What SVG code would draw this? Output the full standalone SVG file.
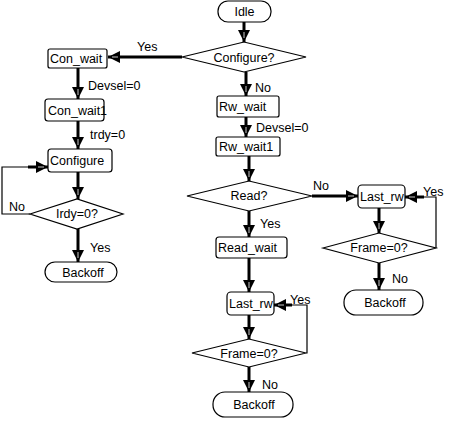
<svg xmlns="http://www.w3.org/2000/svg" width="450" height="421" viewBox="0 0 450 421">
<style>
.s{fill:#fff;stroke:#000;stroke-width:1.2}
.t{font-family:"Liberation Sans",Arial,sans-serif;font-size:12.5px;fill:#000}
.m{text-anchor:middle}
.c{fill:none;stroke:#000;stroke-width:3}
.l{fill:none;stroke:#000;stroke-width:1.2}
</style>
<defs>
<marker id="a" markerUnits="userSpaceOnUse" markerWidth="14" markerHeight="12" refX="12" refY="6" orient="auto">
<path d="M0,0 L12,6 L0,12 Z" fill="#000"/>
<path d="M2,6 L8,6" stroke="#fff" stroke-width="0.8"/>
</marker>
</defs>
<rect width="450" height="421" fill="#fff"/>
<g id="connectors">
<path class="c" d="M244,22 V42" marker-end="url(#a)"/>
<path class="c" d="M182,57 H108" marker-end="url(#a)"/>
<path class="c" d="M78,68 V99" marker-end="url(#a)"/>
<path class="c" d="M78,121 V149" marker-end="url(#a)"/>
<path class="c" d="M78,172 V199" marker-end="url(#a)"/>
<path class="l" d="M30,214 H2 V167 H30"/>
<path class="c" d="M28,167 H48" marker-end="url(#a)"/>
<path class="c" d="M78,229 V262" marker-end="url(#a)"/>
<path class="c" d="M246,72 V96" marker-end="url(#a)"/>
<path class="c" d="M246,117 V137" marker-end="url(#a)"/>
<path class="c" d="M249,156 V181" marker-end="url(#a)"/>
<path class="c" d="M312,196 H358" marker-end="url(#a)"/>
<path class="c" d="M249,211 V237" marker-end="url(#a)"/>
<path class="c" d="M249,258 V292" marker-end="url(#a)"/>
<path class="c" d="M249,315 V339" marker-end="url(#a)"/>
<path class="c" d="M249,367 V392" marker-end="url(#a)"/>
<path class="l" d="M306,353 H307 V305 H290"/>
<path class="c" d="M292,305 H274" marker-end="url(#a)"/>
<path class="c" d="M379,208 V233" marker-end="url(#a)"/>
<path class="c" d="M379,263 V290" marker-end="url(#a)"/>
<path class="l" d="M436,248 V197 H422"/>
<path class="c" d="M424,197 H405" marker-end="url(#a)"/>
</g>
<g id="idle"><rect class="s" x="218" y="1" width="53" height="21" rx="10"/><text class="t m" x="244.5" y="16">Idle</text></g>
<g id="configure_q"><path class="s" d="M182,57 L244,42 L306,57 L244,72 Z"/><text class="t m" x="244" y="62">Configure?</text></g>
<g id="con_wait"><rect class="s" x="48" y="49" width="59" height="19" rx="2"/><text class="t" x="50" y="63">Con_wait</text></g>
<g id="con_wait1"><rect class="s" x="45" y="99" width="59" height="22" rx="3"/><text class="t" x="48" y="115">Con_wait1</text></g>
<g id="configure"><rect class="s" x="48" y="149" width="64" height="23" rx="3"/><text class="t" x="50" y="165">Configure</text></g>
<g id="irdy"><path class="s" d="M30,214 L77,199 L123,214 L77,229 Z"/><text class="t m" x="77" y="218">Irdy=0?</text></g>
<g id="backoff1"><rect class="s" x="45" y="262" width="72" height="20" rx="10"/><text class="t m" x="83" y="277">Backoff</text></g>
<g id="rw_wait"><rect class="s" x="217" y="96" width="62" height="21" rx="2"/><text class="t" x="219" y="111">Rw_wait</text></g>
<g id="rw_wait1"><rect class="s" x="216" y="137" width="64" height="19" rx="2"/><text class="t" x="219" y="151">Rw_wait1</text></g>
<g id="read_q"><path class="s" d="M187,196 L249,181 L312,196 L249,211 Z"/><text class="t m" x="249" y="200">Read?</text></g>
<g id="read_wait"><rect class="s" x="216" y="237" width="71" height="21" rx="3"/><text class="t" x="218" y="252">Read_wait</text></g>
<g id="last_rw1"><rect class="s" x="358" y="185" width="47" height="23" rx="4"/><text class="t" x="360" y="201">Last_rw</text></g>
<g id="frame1"><path class="s" d="M323,248 L379,233 L436,248 L379,263 Z"/><text class="t m" x="379" y="252">Frame=0?</text></g>
<g id="backoff2"><rect class="s" x="344" y="290" width="79" height="25" rx="12"/><text class="t m" x="385" y="307">Backoff</text></g>
<g id="last_rw2"><rect class="s" x="227" y="292" width="47" height="23" rx="4"/><text class="t" x="229" y="308">Last_rw</text></g>
<g id="frame2"><path class="s" d="M192,353 L249,339 L306,353 L249,367 Z"/><text class="t m" x="249" y="358">Frame=0?</text></g>
<g id="backoff3"><rect class="s" x="213" y="392" width="80" height="25" rx="12"/><text class="t m" x="254" y="409">Backoff</text></g>
<g id="labels">
<text class="t" x="137" y="51">Yes</text>
<text class="t" x="88" y="90">Devsel=0</text>
<text class="t" x="90" y="139">trdy=0</text>
<text class="t" x="9" y="211">No</text>
<text class="t" x="90" y="252">Yes</text>
<text class="t" x="255" y="92">No</text>
<text class="t" x="256" y="132">Devsel=0</text>
<text class="t" x="313" y="190">No</text>
<text class="t" x="260" y="228">Yes</text>
<text class="t" x="423" y="196">Yes</text>
<text class="t" x="392" y="283">No</text>
<text class="t" x="290" y="304">Yes</text>
<text class="t" x="262" y="389">No</text>
</g>
</svg>
